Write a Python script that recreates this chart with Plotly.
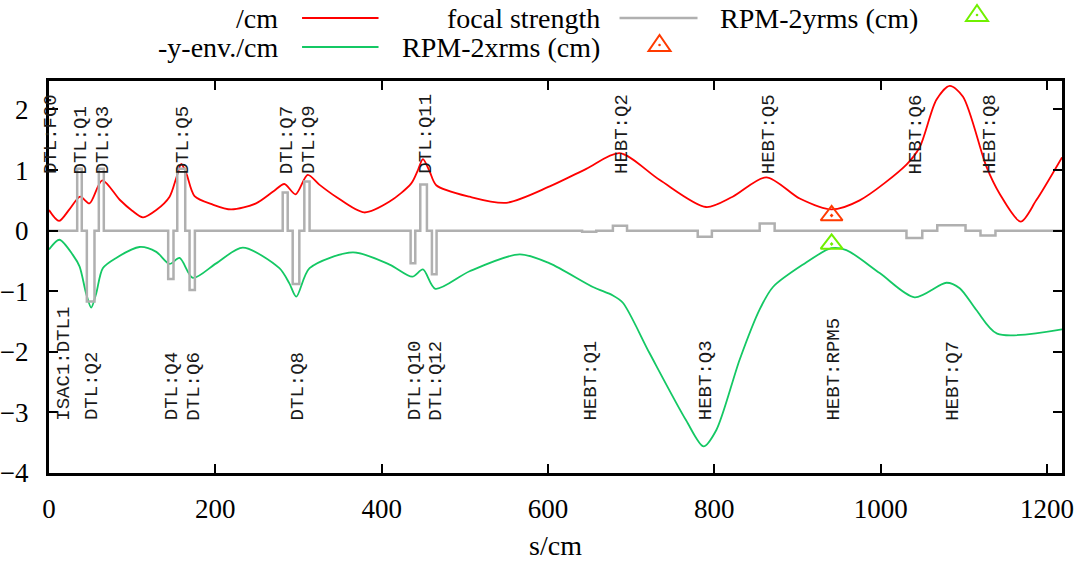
import plotly.graph_objects as go

# ---- beam envelope, horizontal plane (cm) ----
env_x_s = [0, 12, 25, 37.5, 48.7, 64, 85, 100, 113, 129, 145, 153, 159, 165, 175,
           197, 219, 249, 270, 283, 296.5, 311, 325, 345, 379, 409.5, 435.6, 443.6,
           449.6, 457.6, 465.6, 505.7, 549.8, 602, 646, 686, 734, 790, 822, 862.5,
           902.6, 940.7, 974.7, 1031, 1047, 1067, 1083, 1099, 1127, 1143, 1168.4,
           1187, 1218]
env_x = [0.34, 0.16, 0.36, 0.56, 0.45, 0.83, 0.51, 0.33, 0.22, 0.34, 0.56, 0.87,
         1.10, 0.95, 0.57, 0.43, 0.35, 0.45, 0.65, 0.77, 0.60, 0.92, 0.76, 0.56,
         0.30, 0.48, 0.78, 1.00, 1.18, 0.98, 0.75, 0.56, 0.46, 0.73, 1.02, 1.28,
         0.84, 0.39, 0.56, 0.88, 0.53, 0.35, 0.50, 1.09, 1.38, 2.16, 2.39, 2.21,
         1.06, 0.61, 0.15, 0.50, 1.21]

# ---- beam envelope, vertical plane, plotted negative (cm) ----
env_y_s = [0, 12.6, 28.6, 36.7, 44.7, 50.7, 56.7, 64.7, 80.8, 108.8, 129, 145, 157,
           173, 201, 233, 277, 289, 297.3, 313.3, 365.4, 409.5, 436.8, 449.6, 464.5,
           505.7, 565.9, 602, 654, 678, 690, 722, 766, 787, 802.4, 830.4, 854.5,
           870.5, 906.6, 940.7, 958.7, 998.8, 1040.8, 1079, 1095, 1115, 1140, 1218]
env_y = [-0.31, -0.15, -0.40, -0.59, -1.04, -1.27, -1.04, -0.62, -0.45, -0.27, -0.35,
         -0.55, -0.45, -0.78, -0.54, -0.28, -0.62, -0.87, -1.09, -0.62, -0.36, -0.56,
         -0.76, -0.64, -0.96, -0.67, -0.39, -0.54, -0.93, -1.07, -1.19, -2.02, -3.13,
         -3.56, -3.29, -2.13, -1.30, -0.93, -0.56, -0.29, -0.32, -0.70, -1.10, -0.86,
         -0.95, -1.31, -1.70, -1.63]

# ---- quadrupoles: start, end (cm) and focal strength ----
quad_start = [33.9, 45.5, 59.9, 143.3, 154.2, 169.0, 281.0, 293.0, 307.0, 434.8,
              446.4, 460.4, 641.0, 678.0, 780.0, 854.5, 1031.0, 1068.0, 1120.0]
quad_end = [39.4, 54.7, 65.9, 149.7, 163.8, 175.4, 287.0, 301.0, 313.3, 440.4,
            454.4, 466.0, 658.0, 695.0, 797.0, 872.5, 1050.0, 1102.0, 1138.0]
quad_strength = [1.02, -1.17, 1.02, -0.80, 1.02, -0.98, 0.63, -0.88, 0.81, -0.54,
                 0.76, -0.72, -0.02, 0.08, -0.10, 0.12, -0.12, 0.09, -0.08]

# ---- RPM profile monitor measurement ----
rpm_s = [941]
rpm_2xrms = [0.25]
rpm_2yrms = [-0.22]

# ---- element names ----
top_names = ["DTL:FC0", "DTL:Q1", "DTL:Q3", "DTL:Q5", "DTL:Q7", "DTL:Q9", "DTL:Q11",
             "HEBT:Q2", "HEBT:Q5", "HEBT:Q6", "HEBT:Q8"]
top_s = [0, 36.6, 62.9, 159.0, 284.0, 310.0, 450.4, 686.5, 863.5, 1040.5, 1129.0]
bottom_names = ["ISAC1:DTL1", "DTL:Q2", "DTL:Q4", "DTL:Q6", "DTL:Q8", "DTL:Q10",
                "DTL:Q12", "HEBT:Q1", "HEBT:Q3", "HEBT:RPM5", "HEBT:Q7"]
bottom_s = [16.0, 50.1, 146.5, 172.2, 297.0, 437.6, 463.2, 649.5, 788.5, 941.0, 1085.0]
top_label_y = 1.0
bottom_label_y = -3.0

RED = "#ff0000"
GREEN = "#14c864"
GREY = "#b0b0b0"
ORANGE = "#ff3a00"
LIME = "#70f000"
SERIF = "Liberation Serif"
MONO = "Liberation Mono"

# step profile of the focusing strength along the beamline
s_end = env_x_s[-1]
fs_s, fs_k = [0.0], [0.0]
for a, b, k in zip(quad_start, quad_end, quad_strength):
    fs_s += [a, a, b, b]
    fs_k += [0.0, k, k, 0.0]
fs_s.append(s_end)
fs_k.append(0.0)

fig = go.Figure()
fig.add_trace(go.Scatter(x=env_x_s, y=env_x, mode="lines", name="/cm",
                         line=dict(color=RED, width=1.8, shape="spline", smoothing=0.8)))
fig.add_trace(go.Scatter(x=env_y_s, y=env_y, mode="lines", name="-y-env./cm",
                         line=dict(color=GREEN, width=1.8, shape="spline", smoothing=0.8)))
fig.add_trace(go.Scatter(x=fs_s, y=fs_k, mode="lines", name="focal strength",
                         line=dict(color=GREY, width=2.5)))
fig.add_trace(go.Scatter(x=rpm_s, y=rpm_2xrms, mode="markers", name="RPM-2xrms (cm)",
                         marker=dict(symbol="triangle-up-open-dot", size=19, color=ORANGE,
                                     line=dict(width=2, color=ORANGE))))
fig.add_trace(go.Scatter(x=rpm_s, y=rpm_2yrms, mode="markers", name="RPM-2yrms (cm)",
                         marker=dict(symbol="triangle-up-open-dot", size=19, color=LIME,
                                     line=dict(width=2, color=LIME))))

annotations = []
for names, positions, ly, dy in [(top_names, top_s, top_label_y, -6),
                                 (bottom_names, bottom_s, bottom_label_y, -10)]:
    for name, s in zip(names, positions):
        annotations.append(dict(x=s, y=ly, xref="x", yref="y", text=name,
                                textangle=-90, xanchor="center", yanchor="bottom",
                                xshift=2, yshift=dy, showarrow=False,
                                font=dict(family=MONO, size=19, color="#1a1a1a")))

# key: right-aligned titles followed by their line / symbol samples
key_rows = {1: 1.1607, 2: 1.0867}
key_text = [("/cm", 0.2285, 1), ("focal strength", 0.5460, 1),
            ("RPM-2yrms (cm)", 0.8600, 1), ("-y-env./cm", 0.2285, 2),
            ("RPM-2xrms (cm)", 0.5460, 2)]
for txt, xr, row in key_text:
    annotations.append(dict(x=xr, y=key_rows[row], xref="paper", yref="paper",
                            text=txt, xanchor="right", yanchor="middle",
                            showarrow=False, font=dict(family=SERIF, size=28, color="black")))

shapes = [
    dict(type="line", xref="paper", yref="paper", x0=0.2498, x1=0.3253,
         y0=key_rows[1], y1=key_rows[1], line=dict(color=RED, width=2)),
    dict(type="line", xref="paper", yref="paper", x0=0.5632, x1=0.6402,
         y0=key_rows[1], y1=key_rows[1], line=dict(color=GREY, width=2.5)),
    dict(type="line", xref="paper", yref="paper", x0=0.2498, x1=0.3253,
         y0=key_rows[2], y1=key_rows[2], line=dict(color=GREEN, width=2)),
]
for cx, cy, col in [(0.9161, 1.1684, LIME), (0.6027, 1.0918, ORANGE)]:
    shapes.append(dict(type="path", xref="paper", yref="paper",
                       xsizemode="pixel", ysizemode="pixel", xanchor=cx, yanchor=cy,
                       path="M -11,-6 L 11,-6 L 0,10 Z",
                       line=dict(color=col, width=2)))
    shapes.append(dict(type="circle", xref="paper", yref="paper",
                       xsizemode="pixel", ysizemode="pixel", xanchor=cx, yanchor=cy,
                       x0=-1.3, x1=1.3, y0=-1.3, y1=1.3, fillcolor=col,
                       line=dict(color=col, width=0)))

axis_common = dict(showline=True, linecolor="black", linewidth=3, mirror="allticks",
                   ticks="inside", ticklen=9, tickwidth=1.5, tickcolor="black",
                   showgrid=False, zeroline=False, automargin=False,
                   tickfont=dict(family=SERIF, size=27, color="black"))

fig.update_layout(
    width=1083, height=561,
    margin=dict(l=49, r=21, t=81, b=88),
    paper_bgcolor="white", plot_bgcolor="white",
    showlegend=False,
    annotations=annotations,
    shapes=shapes,
    xaxis=dict(range=[0, s_end], tickvals=[0, 200, 400, 600, 800, 1000, 1200],
               ticklabelstandoff=10,
               title=dict(text="s/cm", font=dict(family=SERIF, size=28, color="black"),
                          standoff=14),
               **axis_common),
    yaxis=dict(range=[-4, 2.47], tickvals=[-4, -3, -2, -1, 0, 1, 2],
               ticklabelstandoff=12, **axis_common),
)

fig.write_html("out.html")
